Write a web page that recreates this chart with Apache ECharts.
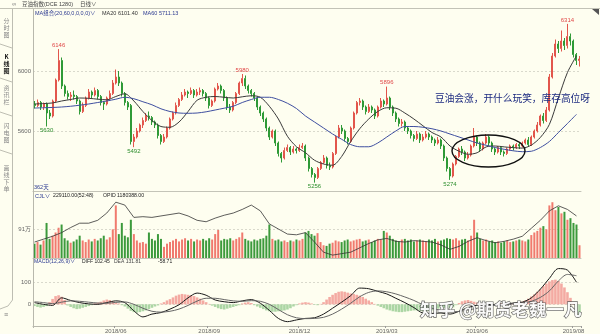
<!DOCTYPE html>
<html><head><meta charset="utf-8">
<script src="https://cdn.jsdelivr.net/npm/echarts/dist/echarts.min.js"></script>
<style>html,body{margin:0;padding:0;background:#fefef0;}#c{width:600px;height:334px;}</style>
</head><body><div id="c"></div>
<script>
// ---- data: [open, close, low, high], one candle per 2 trading days ----
const kData = [
[5780,5770,5750,5800],[5770,5790,5760,5810],[5790,5760,5740,5800],[5760,5780,5740,5790],[5780,5720,5630,5790],[5720,5700,5680,5740],[5700,5800,5690,5810],[5800,5940,5790,5950],[5940,6070,5930,6146],[6070,5900,5880,6090],
[5900,5850,5830,5910],[5850,5830,5810,5870],[5830,5840,5800,5860],[5840,5830,5810,5870],[5830,5800,5780,5840],[5800,5730,5710,5810],[5730,5770,5720,5790],[5770,5820,5760,5830],[5820,5860,5810,5880],[5860,5840,5820,5870],
[5840,5870,5830,5890],[5870,5830,5810,5880],[5830,5790,5770,5840],[5790,5780,5740,5800],[5780,5820,5770,5830],[5820,5850,5810,5870],[5850,5920,5840,5940],[5920,5960,5910,6010],[5960,5920,5900,6000],[5920,5850,5830,5930],
[5850,5790,5770,5860],[5790,5760,5740,5800],[5770,5530,5510,5780],[5530,5560,5492,5580],[5560,5600,5550,5620],[5600,5640,5590,5650],[5640,5670,5620,5690],[5670,5700,5660,5720],[5700,5690,5670,5730],[5690,5660,5640,5700],
[5660,5640,5620,5670],[5640,5570,5550,5650],[5570,5530,5510,5580],[5530,5560,5520,5580],[5560,5620,5550,5630],[5620,5680,5610,5690],[5680,5720,5670,5730],[5720,5770,5710,5790],[5770,5810,5760,5820],[5810,5840,5800,5860],
[5840,5860,5830,5880],[5860,5850,5820,5870],[5850,5870,5840,5890],[5870,5840,5820,5880],[5840,5860,5830,5880],[5860,5870,5840,5890],[5870,5850,5830,5880],[5850,5820,5800,5860],[5820,5770,5750,5830],[5770,5800,5760,5810],
[5800,5880,5790,5890],[5880,5900,5870,5920],[5900,5870,5850,5910],[5870,5820,5800,5880],[5820,5760,5740,5830],[5760,5740,5720,5780],[5740,5790,5730,5800],[5790,5850,5780,5860],[5850,5920,5840,5930],[5920,5950,5900,5980],
[5950,5900,5880,5970],[5900,5870,5850,5910],[5870,5850,5830,5880],[5850,5820,5800,5860],[5820,5760,5740,5830],[5760,5720,5700,5770],[5720,5680,5660,5730],[5680,5620,5600,5690],[5620,5560,5540,5630],[5560,5600,5550,5610],
[5600,5520,5500,5610],[5520,5450,5430,5530],[5450,5420,5390,5460],[5420,5470,5410,5490],[5470,5490,5460,5510],[5490,5460,5440,5500],[5460,5480,5450,5500],[5480,5470,5450,5490],[5470,5490,5460,5510],[5490,5500,5480,5520],
[5500,5420,5400,5510],[5420,5350,5330,5430],[5350,5310,5290,5360],[5310,5290,5256,5320],[5290,5350,5280,5360],[5350,5390,5340,5400],[5390,5420,5380,5440],[5420,5370,5350,5430],[5370,5360,5340,5390],[5360,5450,5350,5460],
[5450,5560,5440,5570],[5560,5620,5550,5640],[5620,5600,5580,5640],[5600,5550,5530,5610],[5550,5530,5510,5560],[5530,5620,5520,5630],[5620,5720,5610,5730],[5720,5790,5710,5800],[5790,5800,5770,5820],[5800,5760,5740,5810],
[5760,5730,5710,5770],[5730,5760,5720,5780],[5760,5740,5720,5770],[5740,5700,5680,5750],[5700,5760,5690,5770],[5760,5800,5750,5820],[5800,5780,5760,5810],[5780,5820,5770,5896],[5820,5760,5740,5830],[5760,5720,5700,5770],
[5720,5680,5660,5730],[5680,5650,5630,5690],[5650,5660,5630,5680],[5660,5620,5600,5670],[5620,5600,5580,5630],[5600,5570,5550,5610],[5570,5550,5530,5580],[5550,5580,5540,5600],[5580,5540,5520,5590],[5540,5560,5530,5580],
[5560,5580,5550,5600],[5580,5560,5540,5590],[5560,5540,5520,5570],[5540,5520,5500,5550],[5520,5540,5510,5560],[5540,5500,5480,5550],[5500,5420,5400,5510],[5420,5350,5330,5430],[5350,5300,5274,5360],[5300,5380,5290,5390],
[5380,5430,5370,5440],[5430,5480,5420,5490],[5480,5460,5440,5500],[5460,5420,5400,5470],[5420,5440,5410,5460],[5440,5500,5430,5510],[5500,5560,5490,5620],[5560,5520,5500,5570],[5520,5480,5460,5530],[5480,5520,5470,5530],
[5520,5560,5510,5580],[5560,5520,5500,5570],[5520,5480,5460,5530],[5480,5460,5440,5490],[5460,5490,5450,5500],[5490,5460,5440,5500],[5460,5450,5430,5470],[5450,5480,5440,5490],[5480,5500,5470,5510],[5500,5490,5470,5510],
[5490,5510,5480,5520],[5510,5500,5480,5520],[5500,5520,5490,5530],[5520,5540,5510,5550],[5540,5510,5500,5560],[5510,5560,5500,5570],[5560,5600,5550,5610],[5600,5640,5590,5660],[5640,5700,5630,5710],[5700,5670,5650,5720],
[5670,5740,5660,5760],[5740,5960,5730,5980],[5960,6100,5950,6120],[6100,6180,6090,6210],[6180,6150,6120,6200],[6150,6200,6130,6270],[6200,6170,6140,6220],[6170,6230,6150,6314],[6230,6200,6170,6250],[6200,6110,6090,6210],
[6110,6070,6040,6120],[6070,6080,6030,6100]
];
// volume (万手)
const volume = [
45,50,42,55,110,60,70,80,95,105,
62,55,48,52,58,70,55,50,58,52,
60,55,62,70,58,65,90,165,75,110,
70,65,120,75,55,48,50,45,80,60,
55,75,60,35,45,50,55,60,52,58,
62,55,60,52,58,55,60,55,62,58,
75,88,55,60,58,62,55,60,65,80,
60,55,52,58,55,60,62,70,105,60,
55,58,52,55,50,55,52,58,55,60,
80,85,75,70,78,50,40,38,45,48,
55,52,50,55,58,52,55,58,60,52,
55,58,50,55,60,58,85,80,70,60,
55,52,58,60,55,58,52,55,58,55,
52,58,55,60,52,55,58,62,60,58,
62,55,58,60,55,70,120,80,60,55,
58,52,55,50,52,48,52,55,50,52,
55,58,55,52,58,72,80,85,95,100,
90,165,175,150,160,140,145,120,125,110,
105,40
];
// smooth lines, one value every LINE_STEP candles
const LINE_STEP = 3;
const ma20 = [
5780,5783,5787,5800,5810,5820,5818,5812,5808,5830,
5848,5800,5730,5670,5630,5625,5660,5730,5805,5825,
5830,5825,5820,5828,5835,5825,5765,5680,5565,5495,
5455,5405,5380,5372,5430,5530,5615,5680,5730,5755,
5752,5720,5680,5635,5590,5560,5500,5465,5445,5455,
5494,5500,5494,5489,5486,5506,5557,5644,5820,5990,
6101
];
const ma60 = [
5753,5755,5757,5760,5765,5772,5780,5790,5800,5812,
5825,5815,5795,5775,5748,5730,5720,5718,5720,5728,
5740,5752,5765,5790,5810,5825,5825,5810,5785,5750,
5700,5660,5620,5580,5545,5510,5495,5495,5520,5560,
5600,5630,5630,5625,5615,5600,5580,5560,5540,5520,
5505,5490,5478,5468,5462,5465,5490,5530,5590,5650,
5711
];
// open interest (万手)
const openInterest = [
82,86,90,95,102,108,108,112,122,137,
133,116,117,116,118,120,122,118,112,110,
115,119,122,127,133,125,107,100,93,92,
95,82,68,64,66,68,74,80,85,87,
83,82,84,83,82,78,72,76,83,88,
84,81,83,86,90,101,112,125,132,127,
118
];
const macdDiff = [
8,0,-5,30,18,8,2,0,8,16,
8,-30,-58,-45,-38,-22,-2,30,52,42,
20,12,8,16,22,5,-28,-65,-80,-72,
-65,-62,-45,-18,10,40,75,72,60,48,
28,8,-15,-40,-42,-40,-45,-32,-15,-4,
0,-2,0,6,10,30,70,120,165,158,
102
];
const macdDea = [
12,8,3,10,16,14,10,6,5,9,
11,0,-18,-32,-36,-32,-22,-5,15,28,
28,22,16,14,17,14,0,-24,-48,-62,
-66,-65,-60,-45,-22,5,35,55,62,58,
48,34,18,-2,-18,-28,-34,-33,-26,-18,
-8,-4,-1,2,6,14,32,62,108,138,
132
];
const macdHist = [
-8,-12,-15,-12,-8,10,25,38,42,35,
20,-5,-12,-18,-22,-20,-16,-12,-8,-4,
4,8,12,18,22,20,14,8,4,-4,
-10,-20,-30,-36,-38,-36,-32,-28,-22,-16,
-10,-5,4,10,18,24,32,40,45,48,
46,44,42,38,32,26,18,10,2,-6,
-12,-18,-22,-24,-20,-16,-12,-8,-4,4,
8,10,6,-4,-10,-16,-22,-28,-32,-34,
-34,-32,-30,-28,-24,-18,-10,-4,4,8,
10,8,4,-2,-4,2,10,22,34,44,
52,58,60,58,54,50,48,44,40,34,
26,18,10,2,-6,-12,-18,-24,-28,-32,
-34,-36,-36,-34,-32,-30,-28,-28,-30,-32,
-32,-30,-28,-24,-20,-18,-16,-18,-20,-14,
-4,6,14,18,20,16,12,8,6,4,
2,0,-2,-2,2,4,2,-2,2,4,
6,8,12,18,26,36,46,58,70,84,
96,106,112,114,108,96,78,56,30,4,
-30,-58
];
const xTickLabels = ['2018/06','2018/09','2018/12','2019/03','2019/06','2019/08'];
const xTickIndex = [27,58,88,117,147,179];
const priceTicks = [5600, 6000];
const volTicks = [91];
const macdTicks = [0, 100];
const highMarks = [6146, 5980, 5896, 6314];
const lowMarks = [5630, 5492, 5256, 5274];

// ---- chart ----
const FONT = '"Liberation Sans","Noto Sans CJK SC",sans-serif';
const CJK = '"Noto Sans CJK SC",sans-serif';
const UP = '#f0746a', UP_B = '#e2564c', DN = '#2f9a37';
const cats = kData.map((_, i) => String(i));
const pair = arr => arr.map((v, k) => [k * LINE_STEP, v]);
const axisFont = {fontSize: 6, color: '#666', fontFamily: FONT, margin: 2};
const hiddenX = gi => ({type: 'category', gridIndex: gi, data: cats, boundaryGap: true,
  axisLine: {show: true, onZero: false, lineStyle: {color: '#c4c4b8'}},
  axisTick: {show: false}, axisLabel: {show: false}, splitLine: {show: false}});
const splitL = {show: true, showMinLine: false, showMaxLine: false, lineStyle: {color: '#d9d9cc', type: [2, 2], width: 1}};

const txt = (x, y, text, fill, size, extra) => ({type: 'text', x, y, z: 100, silent: true,
  style: Object.assign({text, fill, fontSize: size, fontFamily: FONT, verticalAlign: 'middle', align: 'left'}, extra || {})});
const ln = (x1, y1, x2, y2, stroke) => ({type: 'line', z: 90, silent: true, shape: {x1, y1, x2, y2}, style: {stroke, lineWidth: 1}});

const graphic = [
  // toolbar
  ln(0, 8.5, 600, 8.5, '#c2c2b6'),
  txt(12, 4.5, '∞', '#777', 6),
  txt(22, 4.5, '豆油指数(DCE 1280)', '#444', 5.5),
  txt(80, 4.5, '日线∨', '#444', 5.5),
  {type: 'polygon', z: 100, silent: true, shape: {points: [[592, 9], [599, 9], [599, 15]]}, style: {fill: '#555'}},
  // chart left frame
  ln(33.5, 9, 33.5, 328, '#b8b8ac'),
  // sidebar tabs
  ln(12.5, 9, 12.5, 300, '#bdbdb2'),
  ln(0, 44, 12, 48, '#bdbdb2'), ln(0, 78, 12, 82, '#bdbdb2'),
  ln(0, 112, 12, 116, '#bdbdb2'), ln(0, 150, 12, 154, '#bdbdb2'),
  {type: 'polyline', z: 90, silent: true, shape: {points: [[12.5, 300], [8, 306], [0, 309]]}, style: {stroke: '#bdbdb2', fill: 'none'}},
  txt(6.5, 28, '分\n时\n图', '#888', 6, {align: 'center', lineHeight: 7, fontFamily: CJK}),
  txt(6.5, 64, 'K\n线\n图', '#111', 6, {align: 'center', lineHeight: 7, fontWeight: 'bold', fontFamily: CJK}),
  txt(6.5, 95, '资\n讯\n栏', '#888', 6, {align: 'center', lineHeight: 7, fontFamily: CJK}),
  txt(6.5, 133, '闪\n电\n图', '#888', 6, {align: 'center', lineHeight: 7, fontFamily: CJK}),
  txt(6.5, 178, '画\n线\n下\n单', '#888', 6, {align: 'center', lineHeight: 7, fontFamily: CJK}),
  txt(6, 315, '≡', '#777', 7, {align: 'center'}),
  // legends
  txt(35, 13, 'MA组合(20,60,0,0,0,0)∨', '#2b3990', 5.5),
  txt(102, 13, 'MA20 6101.40', '#333', 5.5),
  txt(143, 13, 'MA60 5711.13', '#2b3990', 5.5),
  txt(34, 187.5, '362天', '#2b3990', 5.5),
  txt(35, 196, 'CJL∨', '#2b3990', 5.5),
  txt(53, 196, '229110.00(52:48)', '#222', 5.2),
  txt(103, 196, 'OPID 1180388.00', '#222', 5.2),
  txt(34, 262, 'MACD(12,26,9)∨', '#2b3990', 5.2),
  txt(82, 262, 'DIFF 102.45', '#222', 5),
  txt(114, 262, 'DEA 131.81', '#444', 5),
  txt(158, 262, '-58.71', '#222', 5),
  // annotation
  txt(435, 98, '豆油会涨，开什么玩笑，库存高位呀', '#1c2a80', 9.7, {fontFamily: CJK}),
  {type: 'ellipse', z: 100, silent: true, shape: {cx: 488.5, cy: 151, rx: 36.5, ry: 16}, style: {fill: 'none', stroke: '#111', lineWidth: 1.4}},
  // watermark
  txt(420, 309, '知乎 @期货老魏一凡', 'rgba(255,255,255,0.93)', 17.5, {fontFamily: CJK, fontWeight: 'bold', stroke: 'rgba(70,70,70,0.85)', lineWidth: 1.2})
];

const markData = [
  ...highMarks.map(v => ({coord: [String(kData.findIndex(d => d[3] === v)), v], value: v,
    label: {position: 'top', distance: 1, color: '#e04848'}})),
  ...lowMarks.map(v => ({coord: [String(kData.findIndex(d => d[2] === v)), v], value: v,
    label: {position: 'bottom', distance: 1, color: '#2f8f2f'}}))
];

const option = {
  animation: false,
  backgroundColor: '#fefef0',
  textStyle: {fontFamily: FONT},
  grid: [
    {left: 33, right: 19, top: 11, height: 180},
    {left: 33, right: 19, top: 200, height: 58},
    {left: 33, right: 19, top: 261, height: 66}
  ],
  xAxis: [hiddenX(0), hiddenX(1), {
    type: 'category', gridIndex: 2, data: cats, boundaryGap: true,
    axisLine: {show: true, onZero: false, lineStyle: {color: '#b8b8ac'}},
    axisTick: {show: true, interval: i => xTickIndex.includes(i), length: 2, lineStyle: {color: '#999'}},
    axisLabel: {interval: i => xTickIndex.includes(i), fontSize: 6, color: '#666', margin: 2,
      formatter: (v, i) => { const k = xTickIndex.indexOf(i); return k >= 0 ? xTickLabels[k] : ''; }},
    splitLine: {show: false}
  }],
  yAxis: [
    {type: 'value', gridIndex: 0, min: 5200, max: 6400, interval: 400, axisLine: {show: false}, axisTick: {show: false},
      axisLabel: Object.assign({}, axisFont, {formatter: v => priceTicks.includes(v) ? String(v) : ''}), splitLine: splitL},
    {type: 'value', gridIndex: 1, min: 0, max: 182, interval: 91, axisLine: {show: false}, axisTick: {show: false},
      axisLabel: Object.assign({}, axisFont, {formatter: v => volTicks.includes(v) ? v + '万' : ''}), splitLine: splitL},
    {type: 'value', gridIndex: 1, min: 60, max: 140, show: false, splitLine: {show: false}},
    {type: 'value', gridIndex: 2, min: -100, max: 200, interval: 100, axisLine: {show: false}, axisTick: {show: false},
      axisLabel: Object.assign({}, axisFont, {formatter: v => macdTicks.includes(v) ? String(v) : ''}), splitLine: splitL}
  ],
  series: [
    {type: 'candlestick', xAxisIndex: 0, yAxisIndex: 0, data: kData, barMaxWidth: 2.2, silent: true,
      itemStyle: {color: UP, color0: DN, borderColor: UP_B, borderColor0: DN, borderWidth: 1},
      markPoint: {symbol: 'circle', symbolSize: 0, silent: true, animation: false,
        label: {show: true, fontSize: 6, fontFamily: FONT, formatter: p => String(p.value)}, data: markData}},
    {type: 'line', xAxisIndex: 0, yAxisIndex: 0, data: pair(ma20), smooth: 0.3, showSymbol: false, silent: true,
      lineStyle: {color: '#3a3a3a', width: 1}, z: 5},
    {type: 'line', xAxisIndex: 0, yAxisIndex: 0, data: pair(ma60), smooth: 0.3, showSymbol: false, silent: true,
      lineStyle: {color: '#3f4fa0', width: 1}, z: 5},
    {type: 'bar', xAxisIndex: 1, yAxisIndex: 1, barWidth: 2, silent: true,
      data: volume.map((v, i) => ({value: v, itemStyle: {color: kData[i][1] >= kData[i][0] ? '#f07a6e' : '#3c9a3c'}}))},
    {type: 'line', xAxisIndex: 1, yAxisIndex: 2, data: pair(openInterest), showSymbol: false, silent: true,
      lineStyle: {color: '#333', width: 0.8}, z: 5},
    {type: 'bar', xAxisIndex: 2, yAxisIndex: 3, barWidth: 2.6, silent: true,
      data: macdHist.map(v => ({value: v, itemStyle: {color: v >= 0 ? '#f4aaa2' : '#acd6a4'}}))},
    {type: 'line', xAxisIndex: 2, yAxisIndex: 3, data: pair(macdDiff), smooth: 0.3, showSymbol: false, silent: true,
      lineStyle: {color: '#1a1a1a', width: 1}, z: 5},
    {type: 'line', xAxisIndex: 2, yAxisIndex: 3, data: pair(macdDea), smooth: 0.3, showSymbol: false, silent: true,
      lineStyle: {color: '#666', width: 1}, z: 5}
  ],
  graphic: graphic
};
const chart = echarts.init(document.getElementById('c'));
chart.setOption(option);
</script></body></html>
